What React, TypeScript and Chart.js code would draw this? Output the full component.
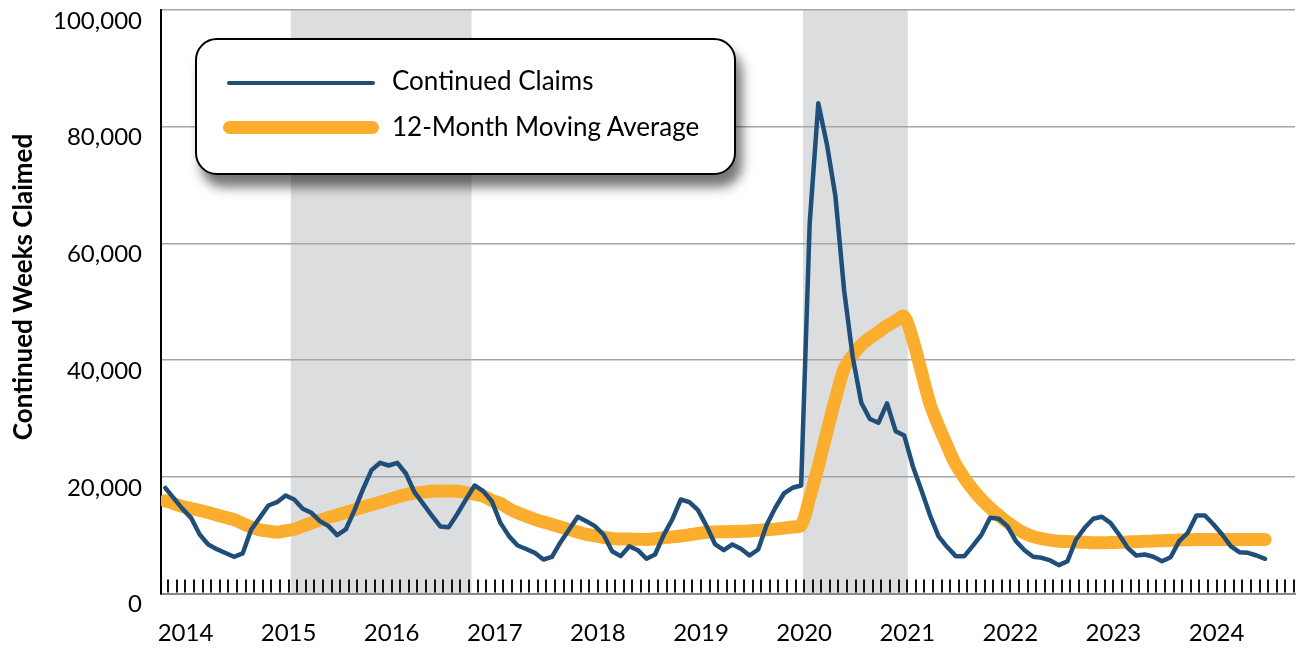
import { useEffect, useRef } from "react";
import { Chart, registerables } from "chart.js";

Chart.register(...registerables);

// First observation: October 2013 (month index relative to January 2014 = -3)
const FIRST_MONTH_INDEX = -3;
// observations are reported around the 21st of each month
const OBS_DAY_FRACTION = 0.65;

const SERIES_CLAIMS = "Continued Claims";
const SERIES_AVG = "12-Month Moving Average";

const CLAIMS = [
  18100, 16300, 14500,
  12970, 10110, 8400, 7600, 6950, 6290, 6860, 10970, 13000, 15080, 15650, 16800,
  16110, 14520, 13830, 12400, 11540, 10000, 10970, 14200, 17850, 21140, 22400, 21940,
  22400, 20570, 17360, 15390, 13400, 11500, 11370, 13670, 16140, 18510, 17540, 15820,
  12100, 9830, 8230, 7630, 6970, 5830, 6290, 8800, 10970, 13140, 12400, 11540,
  10110, 7250, 6400, 8110, 7420, 5950, 6680, 10000, 12680, 16110, 15650, 14280,
  11540, 8400, 7420, 8400, 7660, 6510, 7540, 11800, 14700, 17140, 18120, 18510,
  63500, 84000, 77000, 68000, 52000, 40600, 32700, 29900, 29260, 32570, 27820, 27080,
  21820, 17700, 13400, 9800, 7960, 6400, 6400, 8200, 10110, 12970, 12800, 11540,
  8970, 7420, 6290, 6120, 5660, 4860, 5540, 9260, 11260, 12800, 13150, 12110,
  10110, 7830, 6510, 6680, 6290, 5540, 6220, 8970, 10400, 13370, 13370, 11830,
  10110, 8110, 7080, 6970, 6510, 5950,
];

const MOVING_AVG = [
  15900, 15400, 14900,
  14570, 14250, 13870, 13460, 13050, 12650, 12000, 11370, 10900, 10700, 10510, 10750,
  11000, 11550, 12080, 12570, 13010, 13450, 13890, 14330, 14770, 15210, 15650, 16090,
  16530, 16940, 17220, 17370, 17510, 17560, 17560, 17520, 17300, 17020, 16700, 15950,
  15450, 14550, 13830, 13260, 12720, 12250, 11820, 11400, 10970, 10550, 10120, 9890,
  9640, 9410, 9350, 9320, 9290, 9260, 9400, 9550, 9700, 9850, 10070, 10300,
  10510, 10550, 10580, 10620, 10660, 10720, 10820, 10930, 11030, 11200, 11400, 11650,
  16400, 21800, 27700, 33400, 38500, 40800, 42600, 43800, 44800, 45900, 46700, 47500,
  43500, 38000, 32500, 28700, 25300, 22100, 19800, 17800, 16100, 14650, 13400, 12200,
  11200, 10350, 9750, 9400, 9150, 8960, 8900, 8830, 8770, 8700, 8700, 8730,
  8770, 8820, 8880, 8950, 9000, 9060, 9110, 9160, 9210, 9250, 9260, 9260,
  9260, 9260, 9260, 9260, 9260, 9260,
];

const YEAR_LABELS = ["2014", "2015", "2016", "2017", "2018", "2019", "2020", "2021", "2022", "2023", "2024"];

const Y_TICKS = [0, 20000, 40000, 60000, 80000, 100000];

// shaded periods, as [year, month, day] start and end
const SHADED_PERIODS: [number, number, number][][] = [
  [[2015, 1, 9], [2016, 10, 10]],
  [[2019, 12, 28], [2021, 1, 3]],
];

const Y_TITLE = "Continued Weeks Claimed";

const BLUE = "#1f4e79";
const ORANGE = "#fbae2e";
const SHADE = "#dcdddf";
const FONT = "Lato, 'Open Sans', sans-serif";

function dateToMonthPos(d: [number, number, number]) {
  const [y, m, day] = d;
  const dim = new Date(y, m, 0).getDate();
  return (y - 2014) * 12 + (m - 1) + (day - 1) / dim;
}

const xPos = (i: number) => FIRST_MONTH_INDEX + i + OBS_DAY_FRACTION;

const shadePlugin = {
  id: "shade",
  beforeDraw(chart: any) {
    const { ctx, chartArea, scales } = chart;
    const xs = scales.x;
    ctx.save();
    ctx.fillStyle = SHADE;
    SHADED_PERIODS.forEach(([s, e]) => {
      const x1 = xs.getPixelForValue(dateToMonthPos(s));
      const x2 = xs.getPixelForValue(dateToMonthPos(e));
      ctx.fillRect(x1, chartArea.top, x2 - x1, chartArea.bottom - chartArea.top);
    });
    ctx.restore();
  },
};

const monthTicksPlugin = {
  id: "monthTicks",
  beforeDatasetsDraw(chart: any) {
    const { ctx, chartArea, scales } = chart;
    const xs = scales.x;
    ctx.save();
    ctx.strokeStyle = "#111";
    ctx.lineWidth = 2;
    ctx.beginPath();
    for (let m = Math.ceil(xs.min); m <= Math.floor(xs.max); m++) {
      const x = Math.round(xs.getPixelForValue(m));
      ctx.moveTo(x, chartArea.bottom - 1);
      ctx.lineTo(x, chartArea.bottom - 14);
    }
    ctx.stroke();
    ctx.restore();
  },
};

const yTitlePlugin = {
  id: "yTitle",
  afterDraw(chart: any) {
    const { ctx } = chart;
    ctx.save();
    ctx.translate(24, 287);
    ctx.rotate(-Math.PI / 2);
    ctx.font = `bold 26px ${FONT}`;
    ctx.fillStyle = "#000";
    ctx.textAlign = "center";
    ctx.textBaseline = "middle";
    ctx.fillText(Y_TITLE, 0, 0);
    ctx.restore();
  },
};

export default function App() {
  const canvasRef = useRef<HTMLCanvasElement | null>(null);

  useEffect(() => {
    if (!canvasRef.current) return;
    const claimsData = CLAIMS.map((v, i) => ({ x: xPos(i), y: v }));
    const avgData = MOVING_AVG.map((v, i) => ({ x: xPos(i), y: v }));
    const chart = new Chart(canvasRef.current, {
      type: "line",
      data: {
        datasets: [
          {
            label: SERIES_CLAIMS,
            data: claimsData,
            borderColor: BLUE,
            borderWidth: 4.5,
            pointRadius: 0,
            tension: 0,
            borderJoinStyle: "round",
            borderCapStyle: "round",
          },
          {
            label: SERIES_AVG,
            data: avgData,
            borderColor: ORANGE,
            borderWidth: 13,
            pointRadius: 0,
            tension: 0.3,
            borderJoinStyle: "round",
            borderCapStyle: "round",
            clip: 0,
          },
        ],
      },
      options: {
        animation: false,
        responsive: true,
        maintainAspectRatio: false,
        layout: { padding: { top: 10, right: 4, left: 0, bottom: 0 } },
        plugins: {
          legend: { display: false },
          tooltip: { enabled: false },
        },
        scales: {
          x: {
            type: "linear",
            min: -2.85,
            max: 129.13,
            grid: { display: false, drawTicks: false },
            border: { color: "#8a8a8a", width: 2 },
            afterBuildTicks: (scale: any) => {
              scale.ticks = YEAR_LABELS.map((_, i) => ({ value: i * 12 }));
            },
            afterFit: (scale: any) => {
              scale.height = 54.5;
              scale.paddingLeft = 0;
              scale.paddingRight = 0;
            },
            ticks: {
              autoSkip: false,
              maxRotation: 0,
              padding: 25,
              color: "#000",
              font: { family: FONT, size: 24 },
              callback: (v: any) => YEAR_LABELS[Math.round(Number(v) / 12)] ?? "",
            },
          },
          y: {
            min: 0,
            max: 100000,
            afterBuildTicks: (scale: any) => {
              scale.ticks = Y_TICKS.map((v) => ({ value: v }));
            },
            afterFit: (scale: any) => {
              scale.width = 161;
              scale.paddingTop = 0;
              scale.paddingBottom = 0;
            },
            grid: { color: "#a6a6a6", lineWidth: 1.5, drawTicks: false },
            border: { color: "#000", width: 2 },
            ticks: {
              padding: 19,
              labelOffset: 11,
              color: "#000",
              font: { family: FONT, size: 24 },
              callback: (v: any) => Number(v).toLocaleString("en-US"),
            },
          },
        },
      },
      plugins: [shadePlugin, monthTicksPlugin, yTitlePlugin],
    } as any);
    return () => chart.destroy();
  }, []);

  const textStyle: any = {
    position: "absolute",
    left: 392,
    fontFamily: FONT,
    fontSize: 26,
    lineHeight: "30px",
    color: "#000",
    whiteSpace: "nowrap",
  };

  return (
    <div style={{ position: "absolute", left: 0, top: 0, width: 1299, height: 648, background: "#fff" }}>
      <canvas ref={canvasRef} />
      <div
        style={{
          position: "absolute",
          left: 195,
          top: 38,
          width: 541,
          height: 137,
          boxSizing: "border-box",
          border: "2.5px solid #000",
          borderRadius: 22,
          background: "#fff",
          boxShadow: "6px 12px 12px rgba(0,0,0,0.55)",
        }}
      />
      <div style={{ position: "absolute", left: 227, top: 80.5, width: 148, height: 4.5, borderRadius: 2.25, background: BLUE }} />
      <div style={{ position: "absolute", left: 223, top: 120.5, width: 156, height: 13, borderRadius: 6.5, background: ORANGE }} />
      <div style={{ ...textStyle, top: 65 }}>{SERIES_CLAIMS}</div>
      <div style={{ ...textStyle, top: 111 }}>{SERIES_AVG}</div>
    </div>
  );
}
